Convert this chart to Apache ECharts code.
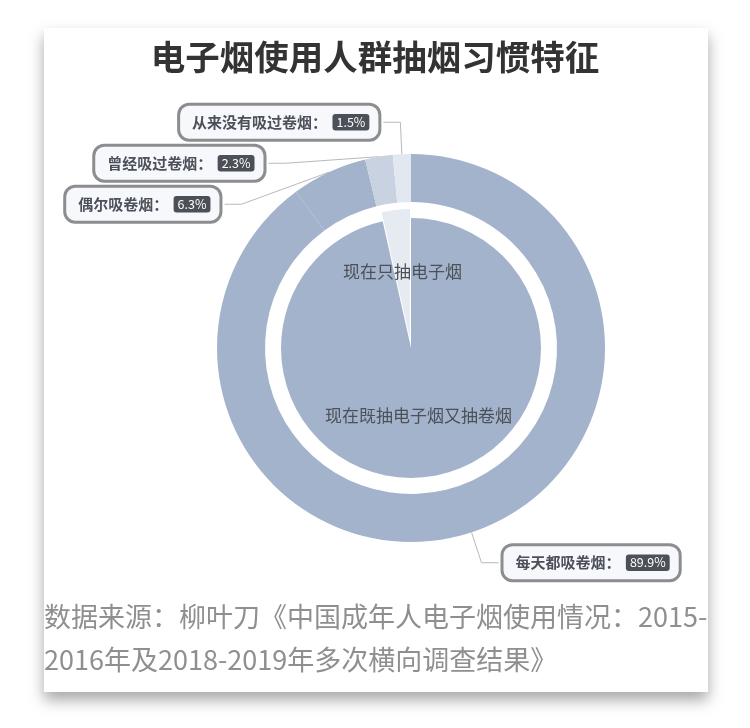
<!DOCTYPE html>
<html>
<head>
<meta charset="utf-8">
<script src="https://cdn.jsdelivr.net/npm/echarts@6/dist/echarts.min.js"></script>
<style>
  html, body { margin: 0; padding: 0; background: #fff; }
  #main { width: 750px; height: 728px; }
</style>
</head>
<body>
<div id="main"></div>
<script>
// 外环：卷烟吸烟频率
const outerNames = ['每天都吸卷烟', '偶尔吸卷烟', '曾经吸过卷烟', '从来没有吸过卷烟'];
const outerValues = [89.9, 6.3, 2.3, 1.5];
const outerColors = ['#a3b3cc', '#a3b3cc', '#c9d2e0', '#e3e8f0'];

// 内圈：电子烟使用情况
const innerNames = ['现在既抽电子烟又抽卷烟', '现在只抽电子烟'];
const innerValues = [96.5, 3.5];
const innerColors = ['#a3b3cc', '#e6eaf1'];

const titleText = '电子烟使用人群抽烟习惯特征';
const sourceLines = [
  '数据来源：柳叶刀《中国成年人电子烟使用情况：2015-',
  '2016年及2018-2019年多次横向调查结果》'
];

const font = '"Noto Sans CJK SC", sans-serif';
const chart = echarts.init(document.getElementById('main'));

chart.setOption({
  backgroundColor: '#fff',
  animation: false,
  textStyle: { fontFamily: font },
  title: {
    text: titleText,
    left: 'center',
    top: 35,
    textStyle: { fontSize: 34.5, fontWeight: 'bold', color: '#333', fontFamily: font }
  },
  graphic: [
    {
      type: 'rect',
      z: -10,
      shape: { x: 44, y: 28, width: 664, height: 664 },
      style: { fill: '#fff', shadowBlur: 14, shadowOffsetY: 8, shadowColor: 'rgba(0,0,0,0.35)' }
    },
    {
      type: 'text',
      left: 44,
      top: 595,
      style: {
        text: sourceLines.join('\n'),
        font: '27px "Noto Sans CJK SC"',
        fill: '#8f8f8f',
        lineHeight: 43
      }
    }
  ],
  series: [
    {
      name: '内圈',
      type: 'pie',
      center: [411, 348],
      radius: [0, 130],
      startAngle: 90,
      selectedMode: 'single',
      selectedOffset: 9,
      label: { position: 'inner', fontSize: 17, color: '#4c5058' },
      labelLine: { show: false },
      data: innerNames.map((n, i) => ({
        name: n,
        value: innerValues[i],
        selected: i === 1,
        itemStyle: { color: innerColors[i] }
      }))
    },
    {
      name: '外环',
      type: 'pie',
      center: [411, 348],
      radius: [146, 194],
      startAngle: 90,
      labelLine: { length: 32, length2: 17, lineStyle: { color: '#b9b9b9', width: 1 } },
      label: {
        formatter: '{b|{b}：}  {per|{c}%}',
        backgroundColor: '#f6f8fc',
        borderColor: '#8c8d8e',
        borderWidth: 3,
        borderRadius: 9,
        padding: [0, 9, 0, 12],
        rich: {
          b: { color: '#4c5058', fontSize: 15, fontWeight: 'bold', lineHeight: 33 },
          per: { color: '#fff', fontSize: 12.5, backgroundColor: '#4c5058', padding: [2, 4], borderRadius: 3 }
        }
      },
      data: outerNames.map((n, i) => ({
        name: n,
        value: outerValues[i],
        itemStyle: { color: outerColors[i] }
      }))
    }
  ]
});
</script>
</body>
</html>
